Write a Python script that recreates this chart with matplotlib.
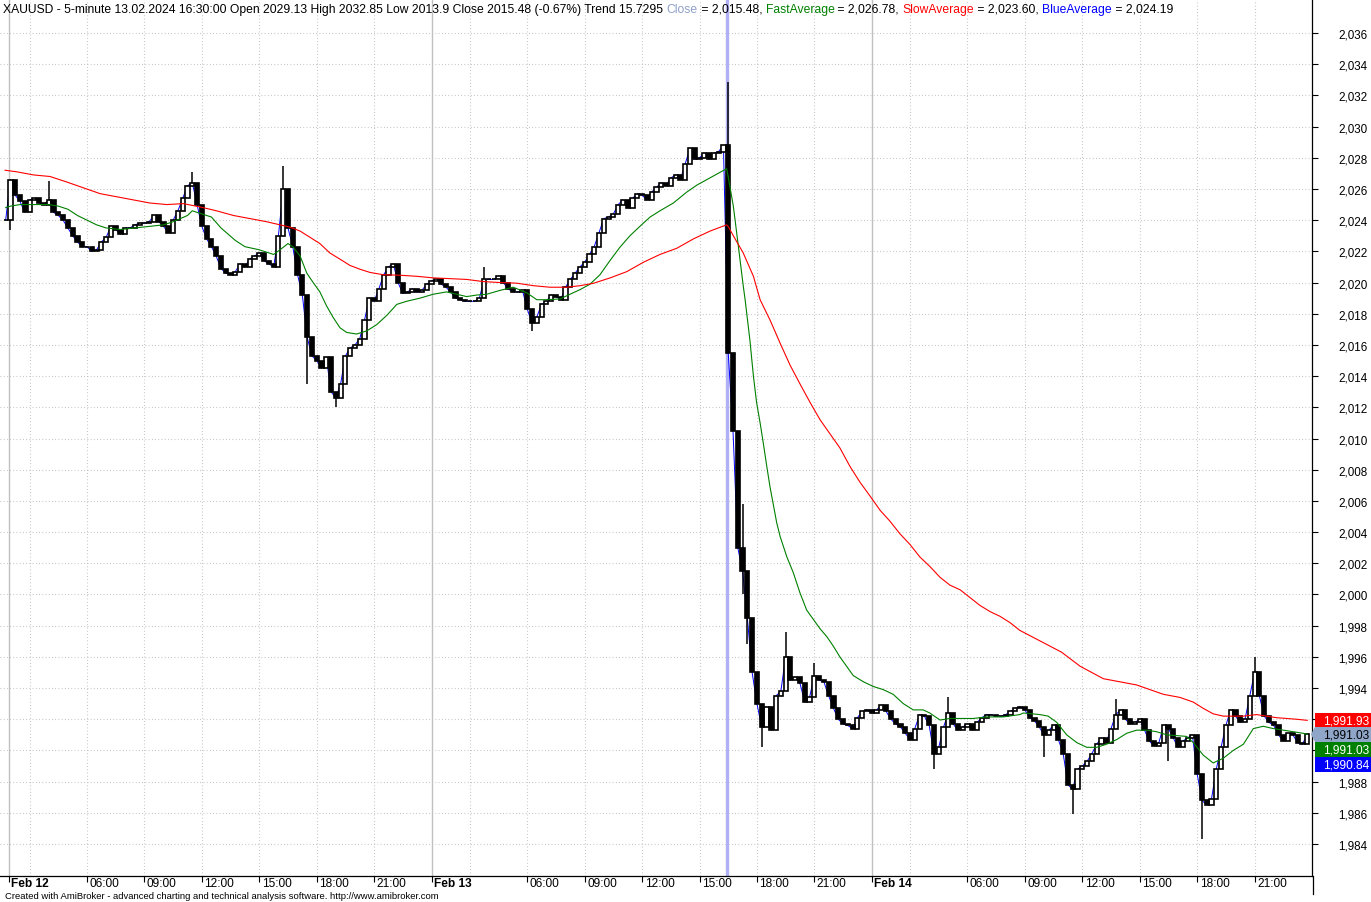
import numpy as np
import pandas as pd
import matplotlib
matplotlib.use("Agg")
import matplotlib.pyplot as plt
from matplotlib.patches import Rectangle, Polygon
from matplotlib.transforms import blended_transform_factory, offset_copy

# XAUUSD 5-minute, 12-14 Feb 2024; closes every 15 minutes
feb12_close = [
    2024.0,
    2026.6, 2025.6, 2025.2, 2024.5,   # 02
    2025.3, 2025.4, 2025.1, 2025.0,   # 03
    2025.3, 2024.5, 2024.3, 2024.0,   # 04
    2023.5, 2023.0, 2022.6, 2022.3,   # 05
    2022.3, 2022.0, 2022.1, 2022.6,   # 06
    2022.9, 2023.6, 2023.4, 2023.1,   # 07
    2023.5, 2023.5, 2023.7, 2023.8,   # 08
    2023.8, 2023.9, 2024.3, 2023.9,   # 09
    2023.6, 2023.2, 2024.0, 2024.6,   # 10
    2025.4, 2026.2, 2026.4, 2025.0,   # 11
    2023.6, 2022.8, 2022.3, 2021.7,   # 12
    2020.9, 2020.6, 2020.5, 2020.7,   # 13
    2021.2, 2021.0, 2021.5, 2021.7,   # 14
    2021.9, 2021.4, 2021.2, 2021.0,   # 15
    2023.0, 2026.0, 2023.5, 2022.3,   # 16
    2020.5, 2019.2, 2016.5, 2015.3,   # 17
    2015.0, 2014.5, 2015.2, 2013.0,   # 18
    2012.6, 2013.5, 2015.3, 2015.8,   # 19
    2016.0, 2016.4, 2017.6, 2019.0,   # 20
    2018.8, 2019.6, 2020.5, 2021.0,   # 21
    2021.2, 2020.0, 2019.3, 2019.4,   # 22
    2019.6, 2019.4, 2019.5, 2019.9,   # 23
]
feb13_close = [
    2020.1, 2020.2, 2019.9, 2019.7,   # 01
    2019.4, 2019.0, 2018.9, 2018.8,   # 02
    2018.8, 2018.8, 2019.0, 2020.2,   # 03
    2020.2, 2020.2, 2020.4, 2020.0,   # 04
    2019.6, 2019.4, 2019.4, 2019.5,   # 05
    2018.3, 2017.4, 2017.8, 2018.6,   # 06
    2018.8, 2019.2, 2019.1, 2018.9,   # 07
    2019.7, 2020.2, 2020.6, 2021.0,   # 08
    2021.3, 2021.8, 2022.3, 2023.2,   # 09
    2024.1, 2024.2, 2024.4, 2025.0,   # 10
    2025.3, 2024.8, 2025.4, 2025.7,   # 11
    2025.6, 2025.3, 2025.8, 2026.1,   # 12
    2026.4, 2026.2, 2026.7, 2026.9,   # 13
    2026.6, 2027.6, 2028.6, 2027.9,   # 14
    2028.0, 2028.3, 2027.9, 2028.3,   # 15
    2028.4, 2028.8, 2015.5, 2010.5,   # 16
    2003.0, 2001.5, 1998.5, 1995.0,   # 17
    1993.0, 1991.5, 1992.8, 1991.3,   # 18
    1993.5, 1993.8, 1996.0, 1994.5,   # 19
    1994.7, 1994.3, 1993.1, 1993.4,   # 20
    1994.8, 1994.5, 1994.4, 1993.5,   # 21
    1992.7, 1992.0, 1991.7, 1991.6,   # 22
    1991.4, 1992.1, 1992.5, 1992.6,   # 23
]
feb14_close = [
    1992.4, 1992.6, 1992.9, 1992.5,   # 01
    1992.0, 1991.7, 1991.5, 1991.1,   # 02
    1990.7, 1991.4, 1992.3, 1992.2,   # 03
    1991.6, 1989.8, 1990.2, 1991.5,   # 04
    1992.4, 1991.7, 1991.3, 1991.5,   # 05
    1991.7, 1991.3, 1991.8, 1992.1,   # 06
    1992.3, 1992.3, 1992.2, 1992.2,   # 07
    1992.3, 1992.5, 1992.7, 1992.8,   # 08
    1992.6, 1992.1, 1991.9, 1991.5,   # 09
    1991.0, 1991.3, 1991.6, 1990.7,   # 10
    1989.8, 1987.8, 1987.5, 1988.8,   # 11
    1989.0, 1989.3, 1989.8, 1990.4,   # 12
    1990.8, 1990.5, 1991.4, 1992.3,   # 13
    1992.6, 1992.0, 1991.7, 1991.8,   # 14
    1992.0, 1991.3, 1990.6, 1990.3,   # 15
    1990.5, 1991.6, 1991.4, 1990.8,   # 16
    1990.2, 1990.6, 1990.8, 1991.0,   # 17
    1988.5, 1986.8, 1986.5, 1986.9,   # 18
    1988.8, 1990.2, 1991.6, 1992.6,   # 19
    1992.2, 1991.8, 1992.0, 1993.5,   # 20
    1995.0, 1993.5, 1992.2, 1991.8,   # 21
    1991.6, 1991.0, 1990.6, 1991.1,   # 22
    1991.0, 1990.5, 1990.4, 1991.03,  # 23
]

# wick extremes that stick out of the bodies
spike_high_time = ["02-12 04:00", "02-12 11:30", "02-12 16:15", "02-13 03:45", "02-13 16:30",
                   "02-13 17:15", "02-13 19:30", "02-13 21:00", "02-14 05:00", "02-14 13:45",
                   "02-14 21:00"]
spike_high = [2026.5, 2027.1, 2027.5, 2021.0, 2032.85, 2005.8, 1997.6, 1995.6, 1993.4, 1993.3, 1996.0]
spike_low_time = ["02-12 02:00", "02-12 17:30", "02-12 19:00", "02-13 06:15", "02-13 17:15",
                  "02-13 17:30", "02-13 18:15", "02-14 04:15", "02-14 10:00", "02-14 11:30",
                  "02-14 16:30", "02-14 18:15"]
spike_low = [2023.4, 2013.5, 2012.0, 2016.9, 2000.0, 1996.8, 1990.2, 1988.8, 1989.6, 1985.9, 1989.3, 1984.3]

fast_time = ["02-12 01:45", "02-12 02:00", "02-12 02:30", "02-12 03:00", "02-12 04:00", "02-12 04:30",
             "02-12 05:00", "02-12 05:30", "02-12 06:00", "02-12 06:30", "02-12 07:00", "02-12 07:45",
             "02-12 08:30", "02-12 09:15", "02-12 10:00", "02-12 10:30", "02-12 11:15", "02-12 11:30",
             "02-12 12:00", "02-12 12:30", "02-12 13:00", "02-12 13:45", "02-12 14:15", "02-12 15:00",
             "02-12 15:45", "02-12 16:05", "02-12 16:30", "02-12 16:45", "02-12 17:08", "02-12 17:29",
             "02-12 17:49", "02-12 18:10", "02-12 18:31", "02-12 18:52", "02-12 19:13", "02-12 19:34",
             "02-12 20:05", "02-12 20:37", "02-12 21:08", "02-12 21:40", "02-12 22:11", "02-12 22:42",
             "02-12 23:24", "02-13 01:05", "02-13 01:47", "02-13 02:19", "02-13 02:50", "02-13 03:22",
             "02-13 03:53", "02-13 04:35", "02-13 05:16", "02-13 05:58", "02-13 06:30", "02-13 07:01",
             "02-13 07:43", "02-13 08:14", "02-13 08:46", "02-13 09:17", "02-13 09:48", "02-13 10:19",
             "02-13 10:50", "02-13 11:22", "02-13 11:53", "02-13 12:25", "02-13 12:56", "02-13 13:38",
             "02-13 14:20", "02-13 14:52", "02-13 15:23", "02-13 15:54", "02-13 16:25", "02-13 16:30",
             "02-13 16:46", "02-13 17:02", "02-13 17:17", "02-13 17:23", "02-13 17:38", "02-13 17:49",
             "02-13 17:59", "02-13 18:10", "02-13 18:20", "02-13 18:31", "02-13 18:41", "02-13 18:52",
             "02-13 19:02", "02-13 19:13", "02-13 19:34", "02-13 19:54", "02-13 20:15", "02-13 20:36",
             "02-13 20:57", "02-13 21:18", "02-13 21:39", "02-13 21:59", "02-13 22:20", "02-13 22:41",
             "02-13 23:02", "02-13 23:34", "02-14 01:05", "02-14 01:36", "02-14 02:07", "02-14 02:39",
             "02-14 03:10", "02-14 03:41", "02-14 04:02", "02-14 04:34", "02-14 05:05", "02-14 06:18",
             "02-14 07:00", "02-14 07:52", "02-14 08:44", "02-14 08:55", "02-14 09:47", "02-14 10:13",
             "02-14 10:40", "02-14 11:11", "02-14 11:43", "02-14 12:14", "02-14 12:45", "02-14 13:16",
             "02-14 13:48", "02-14 14:19", "02-14 14:50", "02-14 15:22", "02-14 15:53", "02-14 16:25",
             "02-14 17:27", "02-14 17:48", "02-14 18:19", "02-14 18:50", "02-14 19:22", "02-14 19:53",
             "02-14 20:25", "02-14 20:56", "02-14 21:27", "02-14 21:59", "02-14 22:30", "02-14 23:01",
             "02-14 23:32", "02-14 23:45"]
fast_avg = [2024.8, 2024.9, 2025.0, 2025.0, 2025.0, 2024.9,
            2024.7, 2024.3, 2024.0, 2023.7, 2023.5, 2023.4,
            2023.5, 2023.6, 2023.7, 2023.9, 2024.3, 2024.6,
            2024.4, 2024.2, 2023.5, 2022.7, 2022.3, 2022.1,
            2021.8, 2022.1, 2022.5, 2022.3, 2021.7, 2020.6,
            2020.0, 2019.4, 2018.5, 2017.75, 2017.1, 2016.8,
            2016.7, 2016.9, 2017.3, 2017.9, 2018.6, 2018.8,
            2019.0, 2019.25, 2019.4, 2019.25, 2019.1, 2019.2,
            2019.25, 2019.5, 2019.7, 2019.35, 2018.9, 2018.9,
            2018.95, 2019.25, 2019.55, 2019.9, 2020.5, 2021.4,
            2022.25, 2023.0, 2023.6, 2024.2, 2024.6, 2025.1,
            2025.8, 2026.25, 2026.6, 2026.95, 2027.3, 2026.78,
            2024.9, 2022.3, 2019.8, 2018.9, 2016.3, 2014.0,
            2012.3, 2011.0, 2009.7, 2008.2, 2006.9, 2005.7,
            2004.6, 2003.7, 2002.4, 2001.4, 2000.1, 1999.0,
            1998.4, 1997.8, 1997.3, 1996.7, 1996.0, 1995.4,
            1994.8, 1994.4, 1994.1, 1993.9, 1993.6, 1993.0,
            1992.6, 1992.6, 1992.4, 1991.95, 1992.05, 1992.05,
            1992.15, 1992.15, 1992.3, 1992.4, 1992.3, 1992.2,
            1991.8, 1991.0, 1990.5, 1990.2, 1990.2, 1990.4,
            1990.7, 1991.1, 1991.3, 1991.3, 1991.2, 1991.0,
            1990.9, 1990.5, 1989.7, 1989.2, 1989.5, 1990.0,
            1990.4, 1991.4, 1991.55, 1991.4, 1991.3, 1991.2,
            1991.1, 1991.03]

slow_time = ["02-12 01:43", "02-12 02:20", "02-12 03:12", "02-12 04:04", "02-12 04:56", "02-12 05:59",
             "02-12 06:41", "02-12 07:33", "02-12 08:25", "02-12 09:17", "02-12 10:10", "02-12 11:02",
             "02-12 11:54", "02-12 12:46", "02-12 13:39", "02-12 14:31", "02-12 15:23", "02-12 16:05",
             "02-12 16:37", "02-12 17:08", "02-12 17:39", "02-12 18:10", "02-12 18:41", "02-12 19:13",
             "02-12 19:44", "02-12 20:16", "02-12 20:47", "02-12 21:29", "02-12 22:21", "02-12 23:14",
             "02-13 01:05", "02-13 01:58", "02-13 02:50", "02-13 03:43", "02-13 04:35", "02-13 05:27",
             "02-13 06:19", "02-13 07:11", "02-13 08:04", "02-13 08:46", "02-13 09:27", "02-13 10:20",
             "02-13 11:12", "02-13 12:04", "02-13 12:56", "02-13 13:49", "02-13 14:41", "02-13 15:33",
             "02-13 16:25", "02-13 16:30", "02-13 16:46", "02-13 17:17", "02-13 17:49", "02-13 18:10",
             "02-13 18:41", "02-13 19:13", "02-13 19:44", "02-13 20:15", "02-13 20:47", "02-13 21:18",
             "02-13 21:49", "02-13 22:20", "02-13 22:52", "02-13 23:23", "02-13 23:55", "02-14 01:26",
             "02-14 01:57", "02-14 02:28", "02-14 03:00", "02-14 03:31", "02-14 04:02", "02-14 04:34",
             "02-14 05:05", "02-14 05:37", "02-14 06:08", "02-14 06:39", "02-14 07:11", "02-14 07:42",
             "02-14 08:13", "02-14 08:44", "02-14 10:55", "02-14 11:53", "02-14 13:06", "02-14 14:50",
             "02-14 16:14", "02-14 17:06", "02-14 17:48", "02-14 18:19", "02-14 18:50", "02-14 19:22",
             "02-14 20:25", "02-14 21:06", "02-14 22:09", "02-14 23:12", "02-14 23:45"]
slow_avg = [2027.2, 2027.1, 2026.9, 2026.8, 2026.45, 2026.0,
            2025.7, 2025.5, 2025.3, 2025.1, 2025.0, 2025.06,
            2024.85, 2024.6, 2024.3, 2024.1, 2023.9, 2023.7,
            2023.55, 2023.3, 2022.9, 2022.5, 2021.9, 2021.5,
            2021.1, 2020.85, 2020.65, 2020.5, 2020.47, 2020.4,
            2020.3, 2020.25, 2020.2, 2020.06, 2020.0, 2019.96,
            2019.8, 2019.7, 2019.7, 2019.8, 2019.95, 2020.3,
            2020.7, 2021.3, 2021.8, 2022.2, 2022.8, 2023.3,
            2023.7, 2023.6, 2023.0, 2021.9, 2020.4, 2018.9,
            2017.6, 2016.1, 2014.7, 2013.5, 2012.3, 2011.2,
            2010.3, 2009.4, 2008.2, 2007.2, 2006.3, 2005.4,
            2004.7, 2003.9, 2003.2, 2002.4, 2001.8, 2001.1,
            2000.6, 2000.3, 1999.8, 1999.3, 1998.9, 1998.6,
            1998.2, 1997.7, 1996.3, 1995.4, 1994.6, 1994.2,
            1993.6, 1993.4, 1993.1, 1992.7, 1992.35, 1992.2,
            1992.2, 1992.3, 1992.1, 1992.0, 1991.93]

last_close = 1991.03
last_fast = 1991.03
last_slow = 1991.93
last_blue = 1990.84


def bar_index(ts):
    # session 01:00-23:55, 276 five-minute bars a day
    t = pd.Timestamp("2024-" + ts)
    day = (t.normalize() - pd.Timestamp("2024-02-12")).days
    return day * 276 + (t.hour * 60 + t.minute - 60) / 5.0


def session_times(day, start, n):
    t0 = pd.Timestamp("2024-" + day + " " + start)
    return [(t0 + pd.Timedelta(minutes=15 * k)).strftime("%m-%d %H:%M") for k in range(n)]


times = (session_times("02-12", "01:45", len(feb12_close)) +
         session_times("02-13", "01:00", len(feb13_close)) +
         session_times("02-14", "01:00", len(feb14_close)))
x = np.array([bar_index(t) for t in times])
closes = np.array(feb12_close + feb13_close + feb14_close)
opens = np.r_[closes[0], closes[:-1]]
highs = np.maximum(opens, closes)
lows = np.minimum(opens, closes)
for t, v in zip(spike_high_time, spike_high):
    k = np.argmin(np.abs(x - bar_index(t)))
    highs[k] = max(highs[k], v)
for t, v in zip(spike_low_time, spike_low):
    k = np.argmin(np.abs(x - bar_index(t)))
    lows[k] = min(lows[k], v)

W, H = 1371, 903
fig = plt.figure(figsize=(W / 100, H / 100), dpi=100)
plt.rcParams['font.family'] = ['Liberation Sans', 'DejaVu Sans']
ax = fig.add_axes([0, 26 / H, 1312 / W, 877 / H])
ax.set_xlim(5.45, 828.0)
ax.set_ylim(1981.95, 2038.18)

grid_col = '#b8b8b8'
dots = (0, (0.7, 2.2))
yticks = np.arange(1984, 2037, 2)
for yv in yticks:
    ax.axhline(yv, color=grid_col, lw=0.8, ls=dots, zorder=0)
for d in ["02-12", "02-13", "02-14"]:
    for hh in ["03:00", "06:00", "09:00", "12:00", "15:00", "18:00", "21:00"]:
        ax.axvline(bar_index(d + " " + hh), color=grid_col, lw=0.8, ls=dots, zorder=0)
for d in ["02-12 01:55", "02-13 01:00", "02-14 01:00"]:
    ax.axvline(bar_index(d), color='#c0c0c0', lw=1.0, zorder=0)

# selected bar
ax.axvline(bar_index("02-13 16:30") - 1, color='#b0b0f4', lw=2.4, zorder=1)

# candles
ax.plot(x, closes, color='#0000ff', lw=0.7, zorder=2)
ax.vlines(x, lows, highs, color='black', lw=1.1, zorder=3)
up = closes >= opens
ax.bar(x[up], (closes - opens)[up], bottom=opens[up], width=2.6, facecolor='white',
       edgecolor='black', lw=1.2, zorder=4)
ax.bar(x[~up], (closes - opens)[~up], bottom=opens[~up], width=2.6, facecolor='black',
       edgecolor='black', lw=1.2, zorder=4)

ax.plot([bar_index(t) for t in fast_time], fast_avg, color='#008000', lw=0.8, zorder=5)
ax.plot([bar_index(t) for t in slow_time], slow_avg, color='#ff0000', lw=0.8, zorder=5)

# axes frame
for s in ['left', 'top']:
    ax.spines[s].set_visible(False)
for s in ['right', 'bottom']:
    ax.spines[s].set_color('black')
    ax.spines[s].set_linewidth(0.9)
ax.yaxis.tick_right()
# 1,990 and 1,992 sit under the value boxes
ax.set_yticks(yticks, labels=["" if v in (1990, 1992) else f"{v:,.0f}" for v in yticks])
ax.tick_params(axis='y', direction='out', length=4, width=0.8, pad=15, labelsize=8.4)

xt = ["02-12 01:55", "02-12 06:00", "02-12 09:00", "02-12 12:00", "02-12 15:00", "02-12 18:00",
      "02-12 21:00", "02-13 01:00", "02-13 06:00", "02-13 09:00", "02-13 12:00", "02-13 15:00",
      "02-13 18:00", "02-13 21:00", "02-14 01:00", "02-14 06:00", "02-14 09:00", "02-14 12:00",
      "02-14 15:00", "02-14 18:00", "02-14 21:00"]
xt_labels = ["Feb 12", "06:00", "09:00", "12:00", "15:00", "18:00", "21:00", "Feb 13", "06:00",
             "09:00", "12:00", "15:00", "18:00", "21:00", "Feb 14", "06:00", "09:00", "12:00",
             "15:00", "18:00", "21:00"]
xpos = [bar_index(t) for t in xt]
ax.set_xticks(xpos, labels=[""] * len(xpos))
ax.tick_params(axis='x', direction='out', length=4, width=0.8)
lab_tr = offset_copy(blended_transform_factory(ax.transData, ax.transAxes), fig=fig, x=2.5, y=-1,
                     units='dots')
for xp, lab in zip(xpos, xt_labels):
    ax.text(xp, 0, lab, transform=lab_tr, ha='left', va='top', fontsize=8.6,
            fontweight='bold' if lab.startswith('Feb') else 'normal', clip_on=False)

fig.add_artist(plt.Line2D([1312.5 / W, 1312.5 / W], [8 / H, 26 / H], color='black', lw=0.9))

# value boxes at right edge
ytr = blended_transform_factory(ax.transAxes, ax.transData)
px_per_unit = 877 / (2038.18 - 1981.95)
box_h = 15 / px_per_unit
bx0 = 1315 / 1312
bw = (1371 - 1315) / 1312
boxes = [(last_slow, last_slow, '#ff0000', 'white'),
         (last_close, last_close, '#8fa6c8', 'black'),
         (last_close - box_h, last_fast, '#008000', 'white'),
         (last_close - 2 * box_h, last_blue, '#0000ff', 'white')]
for yc, val, fc, tc in boxes:
    ax.add_patch(Rectangle((bx0, yc - box_h / 2), bw, box_h, transform=ytr, facecolor=fc,
                           edgecolor='none', clip_on=False, zorder=10))
    ax.text(1369 / 1312, yc, f"{val:,.2f}", transform=ytr, ha='right', va='center',
            fontsize=8.6, color=tc, clip_on=False, zorder=11)
ax.add_patch(Polygon([(1311 / 1312, last_close), (bx0, last_close + box_h / 2),
                      (bx0, last_close - box_h / 2)], closed=True, transform=ytr,
                     facecolor='#8fa6c8', edgecolor='none', clip_on=False, zorder=10))

# title line with coloured names
title_parts = [("XAUUSD - 5-minute 13.02.2024 16:30:00 Open 2029.13 High 2032.85 Low 2013.9 "
                "Close 2015.48 (-0.67%) Trend 15.7295 ", 'black'),
               ("Close", '#8fa0c8'), (" = 2,015.48, ", 'black'),
               ("FastAverage", '#008000'), (" = 2,026.78, ", 'black'),
               ("SlowAverage", '#ff0000'), (" = 2,023.60, ", 'black'),
               ("BlueAverage", '#0000ff'), (" = 2,024.19", 'black')]
renderer = fig.canvas.get_renderer()
title_fs = 8.72


def text_width(s):
    t1 = fig.text(0, 0, s + "|", fontsize=title_fs)
    t2 = fig.text(0, 0, "|", fontsize=title_fs)
    w = t1.get_window_extent(renderer).width - t2.get_window_extent(renderer).width
    t1.remove()
    t2.remove()
    return w


xpix = 3
for s, c in title_parts:
    fig.text(xpix / W, (H - 13) / H, s, color=c, fontsize=title_fs, va='baseline', zorder=12)
    xpix += text_width(s)

fig.text(5 / W, 3.5 / H, "Created with AmiBroker - advanced charting and technical analysis software. "
         "http://www.amibroker.com", fontsize=6.8, va='baseline')

fig.savefig("out.png", dpi=100, facecolor='white')
